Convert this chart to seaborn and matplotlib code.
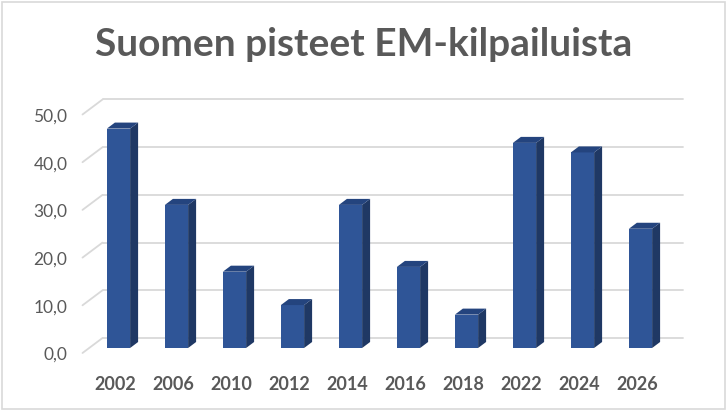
import matplotlib
matplotlib.use("Agg")
import matplotlib.pyplot as plt
import matplotlib.transforms as mtransforms
from matplotlib.patches import Polygon, Rectangle
import seaborn as sns
import pandas as pd

# data
years = ["2002", "2006", "2010", "2012", "2014", "2016", "2018", "2022", "2024", "2026"]
points = [46, 30, 16, 9, 30, 17, 7, 43, 41, 25]
y_ticks = [0, 10, 20, 30, 40, 50]
title = "Suomen pisteet EM-kilpailuista"

front_col = "#2F5597"
side_col = "#1F3864"
top_col = "#24447E"
grid_col = "#D9D9D9"
text_col = "#595959"

sns.set_theme(style="white")
plt.rcParams["font.family"] = ["Lato", "DejaVu Sans"]

W, H = 728, 411
fig = plt.figure(figsize=(W / 100, H / 100), dpi=100)
fig.patch.set_facecolor("white")
# axes placed on the bars' front plane (pixel box)
ax = fig.add_axes([89.5 / W, (H - 348) / H, 580 / W, 238.5 / H])
ax.set_facecolor("none")

df = pd.DataFrame({"year": years, "points": points})
sns.barplot(data=df, x="year", y="points", color=front_col, saturation=1,
            width=0.4, ax=ax, zorder=3, linewidth=0)

ax.set_xlim(-0.5, len(years) - 0.5)
ax.set_ylim(0, 50)
for s in ax.spines.values():
    s.set_visible(False)
ax.set_yticks([])
ax.set_xlabel("")
ax.set_ylabel("")


def shifted(dx, dy):
    return mtransforms.offset_copy(ax.transData, fig=fig, x=dx, y=dy, units="dots")


# back wall gridlines and the floor diagonals
back = shifted(13, 10)
front_floor = shifted(-7, -5)
x0, x1 = ax.get_xlim()
for v in y_ticks:
    ax.plot([x0, x1], [v, v], color=grid_col, lw=1.3, transform=back,
            clip_on=False, zorder=1)
    p_front = front_floor.transform((x0, v))
    p_back = back.transform((x0, v))
    ax.plot([p_front[0], p_back[0]], [p_front[1], p_back[1]], color=grid_col,
            lw=1.3, transform=None, clip_on=False, zorder=1)
    ax.text(x0, v, f"{v:.1f}".replace(".", ","), transform=shifted(-22, -7),
            ha="right", va="center", fontsize=12.5, color=text_col)

# 3d depth of the bars (side and top faces), built from the bar patches
ddx, ddy = 8, 6
for bar in ax.patches[:len(years)]:
    bx0, by0 = bar.get_x(), bar.get_y()
    bx1, by1 = bx0 + bar.get_width(), by0 + bar.get_height()
    f10 = ax.transData.transform((bx1, by0))
    f01 = ax.transData.transform((bx0, by1))
    f11 = ax.transData.transform((bx1, by1))
    side = [f10, f10 + (ddx, ddy), f11 + (ddx, ddy), f11]
    top = [f01, f01 + (ddx, ddy), f11 + (ddx, ddy), f11]
    ax.add_patch(Polygon(side, closed=True, transform=None, facecolor=side_col,
                         edgecolor="none", clip_on=False, zorder=3))
    ax.add_patch(Polygon(top, closed=True, transform=None, facecolor=top_col,
                         edgecolor="none", clip_on=False, zorder=3))

ax.tick_params(axis="x", length=0, pad=20)
for lab in ax.get_xticklabels():
    lab.set_fontweight("bold")
    lab.set_fontsize(13)
    lab.set_color(text_col)
    lab.set_transform(lab.get_transform() +
                      mtransforms.ScaledTranslation(-3 / 100, 0, fig.dpi_scale_trans))

fig.text(0.5, (H - 45) / H, title, ha="center", va="center", fontsize=28,
         fontweight="bold", color=text_col)

# chart area border
fig.add_artist(Rectangle((2 / W, 2 / H), (W - 5) / W, (H - 4) / H,
                         transform=fig.transFigure, fill=False,
                         edgecolor=grid_col, lw=1.2))

fig.savefig("out.png", dpi=100)
